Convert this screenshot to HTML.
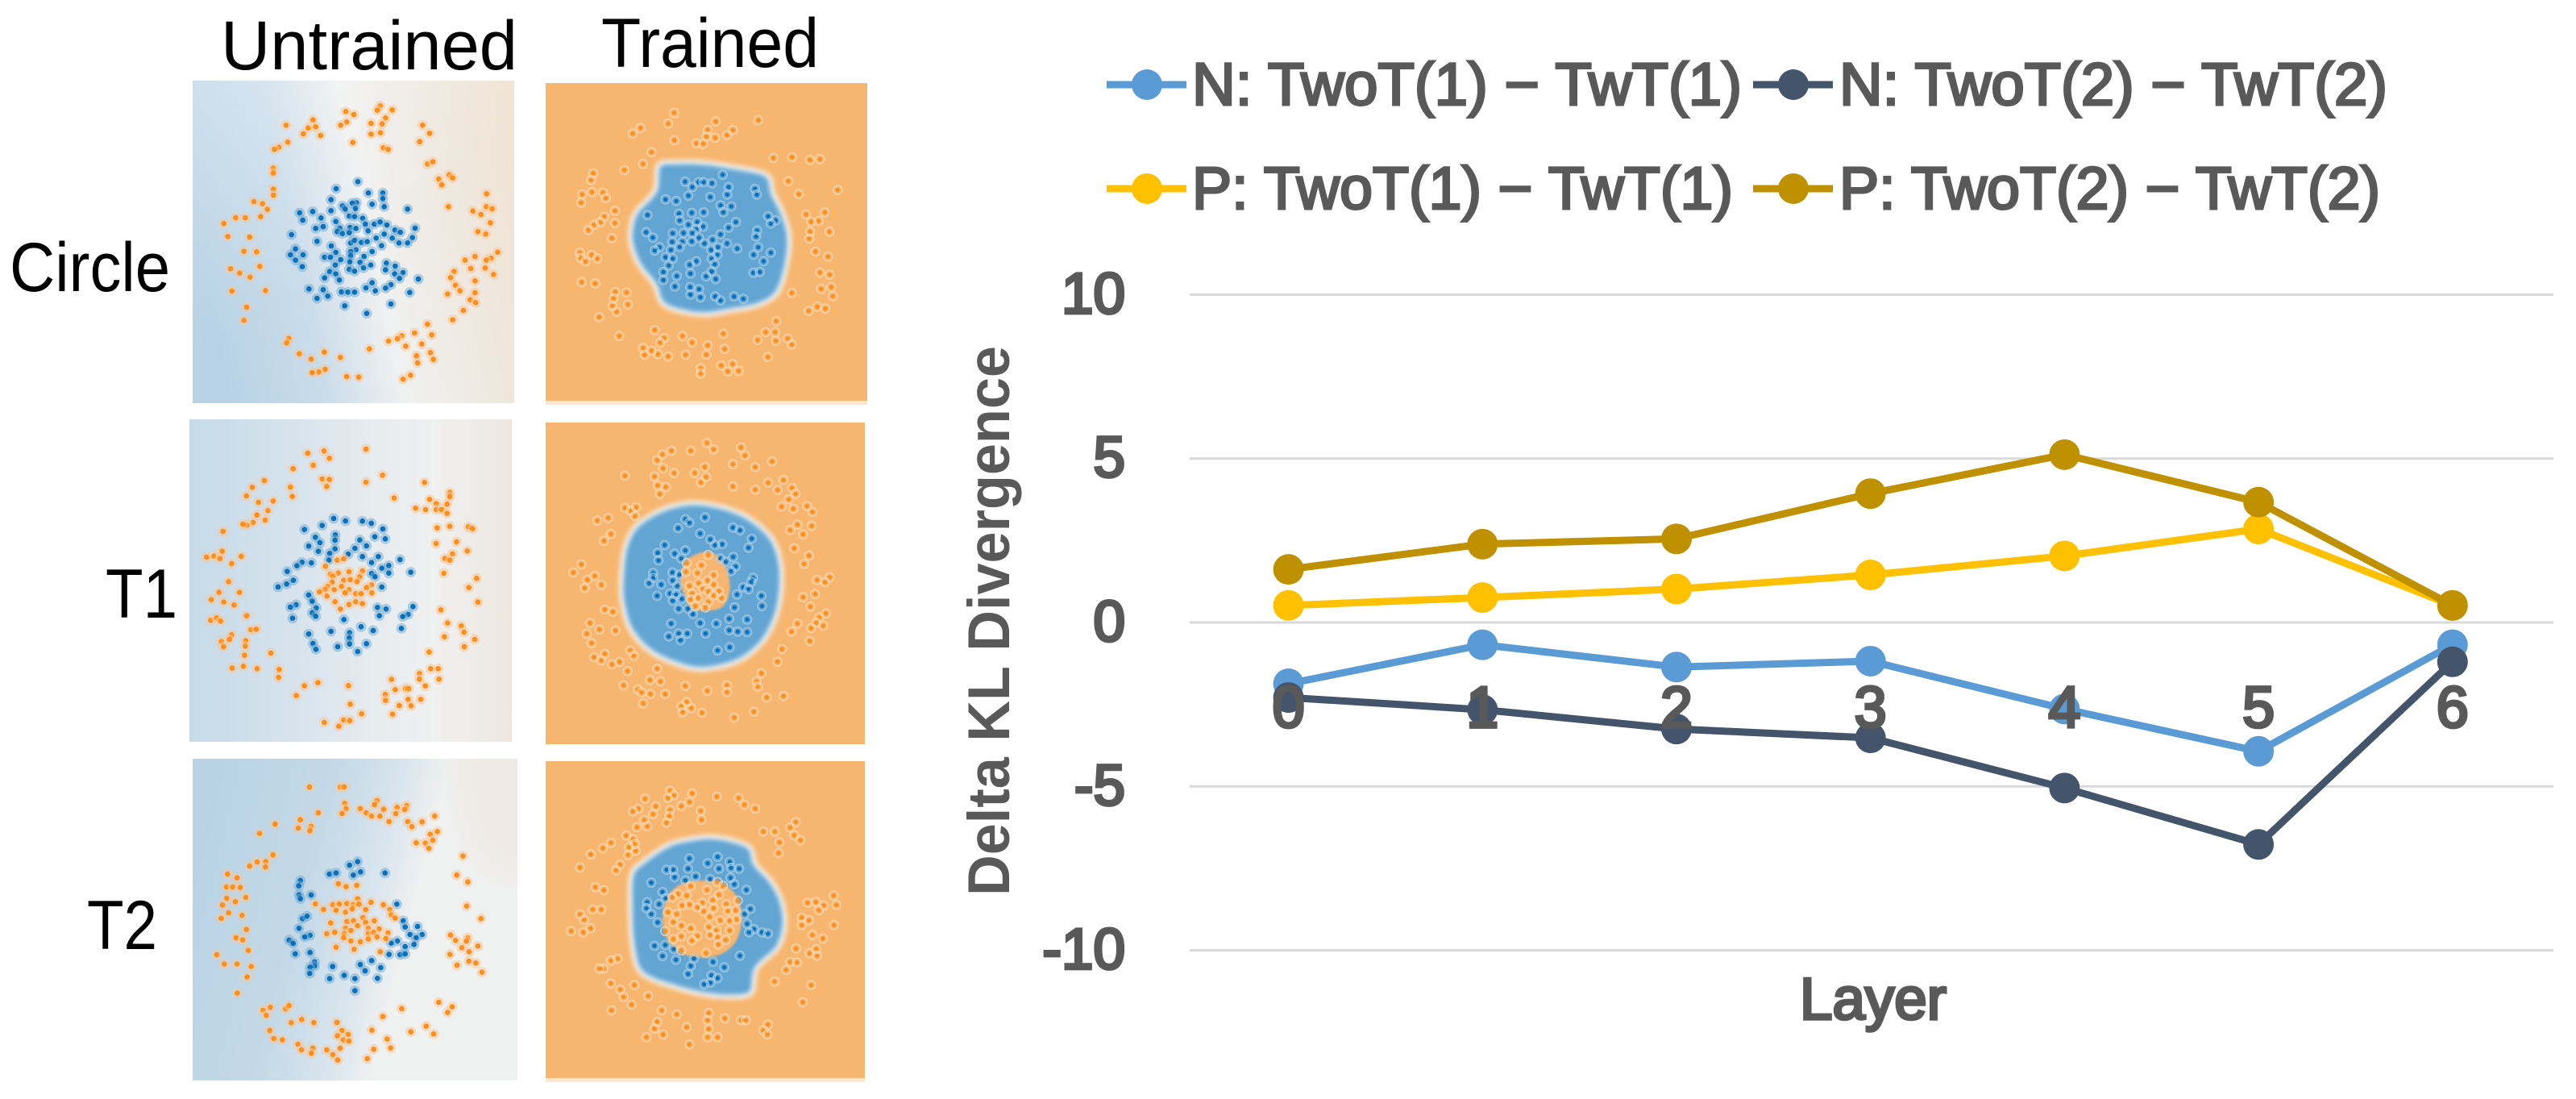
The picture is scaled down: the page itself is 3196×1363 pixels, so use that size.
<!DOCTYPE html>
<html lang="en">
<head>
<meta charset="utf-8">
<title>Delta KL Divergence by Layer</title>
<style>
html,body{margin:0;padding:0;background:#fff;width:3196px;height:1363px;overflow:hidden}
svg{display:block}
text{font-family:"Liberation Sans",sans-serif}
</style>
</head>
<body>
<svg id="figure" xmlns="http://www.w3.org/2000/svg" width="3196" height="1363" viewBox="0 0 3196 1363">
<defs>
<linearGradient id="bgA" gradientUnits="userSpaceOnUse" x1="249" y1="342" x2="671" y2="254">
<stop offset="0" stop-color="#b7d2e5"/><stop offset=".28" stop-color="#cadcea"/><stop offset=".5" stop-color="#eff1f1"/><stop offset=".72" stop-color="#efe9e1"/><stop offset="1" stop-color="#efe2d2"/>
</linearGradient>
<linearGradient id="bgAtop" gradientUnits="userSpaceOnUse" x1="239" y1="100" x2="400" y2="340">
<stop offset="0" stop-color="#fff" stop-opacity=".25"/><stop offset="1" stop-color="#fff" stop-opacity="0"/>
</linearGradient>
<linearGradient id="bgB" gradientUnits="userSpaceOnUse" x1="235" y1="720" x2="635" y2="720">
<stop offset="0" stop-color="#c6dae8"/><stop offset=".3" stop-color="#d5e2ec"/><stop offset=".55" stop-color="#e5ebef"/><stop offset=".75" stop-color="#eff0f0"/><stop offset="1" stop-color="#eee7e0"/>
</linearGradient>
<linearGradient id="bgC" gradientUnits="userSpaceOnUse" x1="245" y1="1073" x2="633" y2="1170">
<stop offset="0" stop-color="#b9d3e5"/><stop offset=".35" stop-color="#c4d9e7"/><stop offset=".55" stop-color="#d9e5ee"/><stop offset=".68" stop-color="#eff0f0"/><stop offset="1" stop-color="#eff0f0"/>
</linearGradient>
<filter id="blurEdge" x="-20%" y="-20%" width="140%" height="140%"><feGaussianBlur stdDeviation="3"/></filter>
<filter id="blurCore" x="-20%" y="-20%" width="140%" height="140%"><feGaussianBlur stdDeviation="2"/></filter>
<filter id="blurSoft" x="-20%" y="-20%" width="140%" height="140%"><feGaussianBlur stdDeviation="1.2"/></filter>
<filter id="blurCorner" x="-60%" y="-60%" width="220%" height="220%"><feGaussianBlur stdDeviation="10"/></filter>
</defs>

<rect width="3196" height="1363" fill="#fff"/>

<text x="274" y="86" font-size="86" fill="#000" textLength="368" lengthAdjust="spacingAndGlyphs">Untrained</text>
<text x="746" y="83" font-size="86" fill="#000" textLength="270" lengthAdjust="spacingAndGlyphs">Trained</text>
<text x="12" y="361" font-size="86" fill="#000" textLength="199" lengthAdjust="spacingAndGlyphs">Circle</text>
<text x="131" y="766" font-size="86" fill="#000" textLength="89" lengthAdjust="spacingAndGlyphs">T1</text>
<text x="108" y="1177" font-size="86" fill="#000" textLength="87" lengthAdjust="spacingAndGlyphs">T2</text>

<g id="panels"></g>

<g id="chart">
<g id="grid"></g>
<g id="y-axis"></g>
<g id="series"></g>
<g id="x-axis"></g>
<text transform="translate(1252,1111) rotate(-90)" x="0" y="0" font-size="73" font-weight="bold" fill="#595959" textLength="682" lengthAdjust="spacingAndGlyphs">Delta KL Divergence</text>
<text x="2233" y="1264" font-size="73" fill="#595959" stroke="#595959" stroke-width="3.6" textLength="182" lengthAdjust="spacingAndGlyphs">Layer</text>
<g id="legend"></g>
</g>
</svg>

<script>
/* ---------- line chart data ---------- */
var layers = ["0","1","2","3","4","5","6"];
var yTicks = [10,5,0,-5,-10];
var seriesN1 = [-1.87,-0.68,-1.36,-1.18,-2.64,-3.93,-0.68];
var seriesN2 = [-2.29,-2.66,-3.25,-3.52,-5.05,-6.77,-1.2];
var seriesP1 = [0.52,0.76,1.02,1.45,2.03,2.85,0.52];
var seriesP2 = [1.62,2.39,2.55,3.93,5.12,3.67,0.52];
var seriesNames = ["N: TwoT(1) \u2212 TwT(1)","N: TwoT(2) \u2212 TwT(2)","P: TwoT(1) \u2212 TwT(1)","P: TwoT(2) \u2212 TwT(2)"];

/* ---------- scatter data: flat x1,x2 pairs, feature units 0-1215 ---------- */
var circleUntrainedOrange = [360,172,460,152,442,182,470,178,424,204,488,210,366,235,333,254,316,262,312,332,312,350,313,410,313,432,240,456,272,464,290,485,265,512,208,516,172,516,128,538,143,586,224,588,203,641,250,643,153,706,187,722,262,697,226,737,158,789,283,787,213,849,203,898,582,121,612,132,585,160,563,172,608,236,676,165,676,205,710,100,699,116,755,115,730,145,717,167,711,200,722,256,740,262,868,172,894,202,857,233,886,316,906,308,967,356,980,368,928,372,939,394,964,475,1106,427,1055,491,1085,504,1105,475,1127,483,1120,535,1074,568,1103,577,1147,644,1063,660,1123,666,1105,674,1026,674,1047,705,1101,703,1132,727,985,716,972,739,1063,751,990,767,1007,788,961,800,1063,795,1045,821,1065,832,1020,861,980,896,886,912,838,945,902,952,790,955,774,966,741,975,805,994,865,986,670,1004,897,1018,845,1030,908,1043,849,1056,823,1102,795,1117,370,965,362,982,409,1022,453,1042,502,1016,562,1036,505,1080,481,1090,457,1092,585,1107,630,1109];
var circleUntrainedBlue = [627,382,546,408,666,424,720,424,720,445,527,449,622,460,606,462,680,466,725,475,812,484,570,472,580,484,527,490,618,482,459,493,410,498,422,525,490,517,595,510,615,512,645,518,545,530,655,540,688,540,710,532,735,543,470,556,498,549,560,555,598,552,620,556,550,568,570,575,595,572,665,565,765,562,785,570,840,555,380,579,725,577,695,592,755,592,830,590,475,604,600,610,615,600,640,608,662,605,780,610,812,610,715,620,528,621,395,632,620,635,600,642,680,642,545,645,376,654,423,654,503,663,525,663,563,672,600,658,650,660,395,674,635,682,597,680,675,692,543,692,420,698,733,685,766,696,595,708,648,703,615,715,730,710,522,716,545,725,764,725,795,720,503,740,782,742,852,744,558,748,680,758,750,765,730,778,657,777,445,781,498,784,566,792,590,793,615,793,692,788,820,794,475,816,515,808,578,844,750,837,660,872];
var circleTrainedOrange = [487,120,465,160,362,176,333,197,642,152,612,183,706,184,684,203,640,213,607,208,488,222,570,233,595,235,800,147,403,266,371,310,302,333,857,288,926,285,992,295,1030,292,912,374,1096,407,951,422,186,345,178,370,181,415,145,423,222,417,233,437,141,454,267,484,227,506,213,527,189,537,267,530,168,556,255,586,978,498,1048,490,997,525,1025,522,993,562,1065,562,990,588,1013,636,1060,655,137,640,140,660,157,673,180,648,201,662,143,750,193,755,1030,714,1066,722,1034,775,1072,768,1078,802,925,790,268,786,310,788,262,810,315,833,258,838,273,860,208,880,1020,841,1050,848,988,857,867,895,283,950,415,928,450,958,435,975,828,936,863,936,670,942,798,965,866,968,910,960,925,982,518,950,554,974,612,985,675,998,372,995,403,1005,377,1020,427,1018,465,1026,530,1020,607,1020,836,1028,662,1060,705,1055,687,1082,727,1080,586,1070,586,1090];
var circleTrainedBlue = [668,350,528,376,578,378,597,378,628,382,555,396,690,396,788,403,795,424,685,424,540,428,622,433,455,442,495,448,660,464,700,468,670,490,505,495,597,490,553,492,388,500,837,505,508,520,865,520,847,532,717,526,540,536,573,526,595,543,690,547,570,552,796,558,383,564,482,568,522,567,555,567,660,572,792,580,408,584,580,585,553,598,480,600,518,600,630,592,600,606,684,606,508,619,650,620,433,620,722,625,800,620,415,632,475,630,625,630,847,640,783,648,648,648,455,657,482,662,627,662,570,672,820,672,545,685,467,688,638,683,447,712,548,718,627,710,782,715,806,712,497,727,606,728,447,742,642,738,490,766,547,768,580,776,548,796,585,806,640,803,660,818,710,803,745,812];
var t1UntrainedOrange = [446,132,507,124,527,151,663,117,467,177,392,190,725,214,663,240,500,228,527,230,517,256,285,234,240,259,382,258,389,293,218,291,263,315,318,310,768,299,881,241,298,346,257,362,288,381,243,390,220,400,205,396,131,423,975,278,975,294,900,304,925,320,965,322,848,337,885,342,925,342,945,342,965,356,928,410,975,404,1044,406,1060,413,128,497,70,519,97,515,120,524,199,516,163,543,924,468,1000,462,1040,496,985,507,957,524,975,530,953,579,152,610,1075,598,1046,632,116,650,192,650,87,677,134,686,172,697,1080,686,942,715,219,737,85,754,107,745,122,757,967,764,1018,775,1028,798,235,789,255,787,163,808,155,825,125,833,133,852,216,830,214,850,955,815,1068,825,1029,852,211,884,309,876,898,872,165,932,207,925,258,934,340,937,338,966,904,934,932,934,862,952,862,973,935,973,758,974,484,986,434,998,598,997,884,998,772,1012,810,1008,822,1008,404,1034,735,1030,736,1052,820,1048,867,1048,605,1066,787,1071,831,1072,647,1102,762,1103,508,1134,580,1125,603,1127,562,1148,556,530,580,525,512,553,530,582,560,578,600,573,650,570,540,590,580,605,605,603,640,592,537,612,630,610,684,622,665,632,520,628,510,640,490,648,545,640,572,628,600,640,585,652,625,655,645,655,685,652,518,664,548,685,600,695,625,685,650,692,568,712];
var t1UntrainedBlue = [543,375,587,384,650,385,683,393,500,401,434,416,726,414,475,445,549,436,548,456,696,443,735,451,640,455,492,465,450,478,665,477,548,488,486,497,622,486,528,505,597,508,650,517,709,517,525,530,790,528,684,539,425,538,460,540,406,551,748,550,722,560,370,572,830,575,748,578,684,580,697,592,393,605,368,619,336,630,722,630,450,660,463,683,403,696,382,705,478,708,838,703,706,706,738,712,463,726,820,732,713,737,476,739,800,740,390,746,581,751,795,784,645,778,690,792,533,795,450,805,602,800,601,820,466,840,602,842,665,841,558,852,477,862,632,870];
var t1TrainedOrange = [615,88,640,112,483,117,555,117,742,105,757,135,450,131,430,152,712,167,858,157,795,178,607,177,452,182,493,200,570,200,310,210,420,213,612,215,593,235,432,246,462,252,712,250,795,262,843,236,900,226,932,256,878,263,945,277,440,278,920,298,893,325,937,333,988,323,1008,345,310,330,332,340,352,327,347,360,248,367,207,377,952,392,1005,397,925,412,973,428,258,427,232,452,940,480,995,507,977,538,148,540,118,570,198,583,170,597,222,616,160,628,1072,588,1025,598,1055,606,1018,650,973,662,1000,697,1058,722,1033,738,235,708,265,716,180,758,215,782,275,786,168,798,1022,757,1048,768,1003,777,952,760,930,790,998,825,186,833,895,855,330,860,343,880,235,873,195,885,222,897,290,903,262,912,878,902,320,937,430,928,818,945,403,970,442,975,800,975,805,995,305,990,535,992,690,990,690,1015,358,1005,372,1016,405,1022,460,1022,617,1010,838,1035,900,1030,378,1057,540,1052,520,1068,557,1075,525,1090,597,1092,790,1088,717,1110,620,505,540,535,595,543,537,568,580,572,640,580,618,600,585,610,640,615,550,620,600,630,660,640,620,640,560,648,640,655,582,665,670,665,620,680,555,670,572,695,610,700];
var t1TrainedBlue = [608,365,535,372,550,385,508,405,712,403,738,413,590,425,782,444,628,447,645,468,672,465,458,468,770,478,535,488,432,497,495,500,713,512,665,518,435,525,520,518,685,530,722,548,487,570,415,572,513,578,705,565,787,590,415,590,488,600,400,610,445,615,750,625,780,605,770,632,505,620,478,648,500,652,430,657,727,652,818,657,522,668,488,675,820,695,718,700,510,705,545,705,563,725,698,742,765,745,482,760,590,758,650,760,698,785,730,790,765,792,510,797,542,797,610,797,473,808,517,822,700,848,655,860];
var t2UntrainedOrange = [441,114,555,114,570,114,572,175,577,195,562,213,474,210,630,195,652,210,672,222,692,165,683,180,717,197,703,223,767,190,762,213,802,183,795,198,737,243,807,243,822,262,860,244,907,222,917,280,890,290,900,312,838,322,872,323,885,342,407,236,399,267,447,260,442,277,313,252,255,287,1012,371,305,367,246,393,278,392,218,408,277,412,136,438,171,452,132,486,155,486,183,488,989,442,1030,467,204,525,133,528,165,541,117,553,1026,557,140,582,190,592,112,603,1079,604,206,644,168,675,192,683,966,665,985,685,1030,675,1025,688,1008,712,1068,706,1035,727,213,722,964,737,96,738,1034,762,1060,769,124,773,171,773,224,782,990,777,1083,803,209,821,172,881,922,915,972,932,295,934,268,945,280,964,352,940,365,928,784,939,955,953,714,968,412,979,373,991,457,991,543,990,875,1004,903,1033,293,1020,673,1019,818,1025,562,1020,585,1035,545,1040,308,1050,340,1055,730,1052,567,1055,588,1060,398,1072,453,1086,411,1092,505,1092,555,1086,680,1090,743,1085,448,1105,528,1110,546,1130,656,1125,548,474,577,485,617,480,620,530,463,549,528,552,552,550,580,548,604,552,625,550,670,543,716,552,493,570,540,573,575,580,600,568,650,570,740,570,745,590,760,602,520,620,580,615,605,612,640,600,650,618,682,612,575,640,620,630,660,640,700,642,505,660,535,655,570,660,595,648,660,660,680,655,733,657,568,675,660,680,692,672,725,678,595,687,630,690,540,710,607,718,704,727];
var t2UntrainedBlue = [620,392,590,405,515,438,540,434,631,430,604,442,722,434,407,462,401,482,402,515,447,516,407,530,766,550,415,604,432,595,790,612,797,635,843,633,402,640,443,666,423,672,815,663,860,663,838,675,365,684,380,696,768,687,745,695,830,700,797,708,443,730,388,735,737,737,778,738,797,735,672,760,460,765,460,780,630,775,443,785,527,782,706,786,648,798,442,808,570,815,516,827,610,827,694,826,610,872];
var t2TrainedOrange = [478,128,492,145,560,138,470,155,385,158,652,150,733,155,550,170,425,186,520,185,755,180,795,195,360,195,340,205,478,200,592,203,415,215,475,222,595,236,382,237,465,247,393,260,355,264,946,245,925,265,825,280,868,280,940,294,963,312,315,295,340,308,885,320,258,322,228,342,347,326,325,338,350,352,322,367,882,360,183,365,292,403,143,414,277,424,200,487,232,498,990,545,1020,542,1087,518,1097,553,1050,555,1032,572,190,570,222,570,143,588,158,608,968,600,995,610,968,628,1088,628,182,640,110,650,155,655,1008,665,1047,678,947,715,1022,717,997,733,1025,742,283,753,258,760,925,765,950,767,230,790,215,790,910,795,257,845,345,851,867,838,1003,851,293,868,397,892,305,895,335,924,972,915,260,945,447,945,503,960,622,955,682,975,618,982,742,982,760,982,430,988,842,998,540,1008,420,1013,622,1015,825,1020,452,1035,390,1045,618,1045,655,1045,840,1035,550,1072,555,483,615,497,655,468,675,482,508,512,540,518,660,515,487,525,730,537,523,555,550,552,598,545,637,535,687,550,470,580,503,587,580,562,640,565,603,577,693,575,722,573,625,597,725,607,665,610,700,612,490,617,520,630,555,640,622,635,460,650,650,648,700,648,490,680,520,670,580,668,628,665,655,672,685,683,560,685,658,700,520,722,612,732];
var t2TrainedBlue = [550,380,655,374,618,398,700,393,545,418,660,418,705,415,735,418,465,422,490,422,495,450,573,447,627,457,703,452,535,462,408,470,717,476,762,497,450,505,462,528,393,543,437,550,390,565,777,568,755,587,408,587,432,618,765,623,790,643,772,655,820,655,842,660,420,705,460,702,492,717,738,742,450,743,567,752,500,757,638,765,555,780,680,785,545,810,632,815,655,825,628,842,605,848];

/* decision-region outlines, same feature units */
var circleBlobOutline = [430,315,500,303,600,305,700,320,830,350,855,420,890,490,915,580,905,690,870,790,800,835,700,855,600,870,500,855,440,825,415,760,360,690,330,620,325,560,345,490,415,410];
var t1BlobOutline = [590,312,700,335,790,380,860,450,890,540,890,650,870,740,820,830,730,900,600,930,500,910,400,860,330,780,300,680,297,590,310,480,350,400,430,345,510,318];
var t1CoreOutline = [540,525,600,495,650,505,690,560,700,640,670,700,600,712,555,700,530,650,515,600];
var t2BlobOutline = [620,300,700,310,775,340,795,400,850,460,890,530,905,620,880,710,800,790,780,880,700,895,600,885,500,860,400,825,355,780,335,680,330,560,335,440,380,390,470,330,540,310];
var t2CoreOutline = [598,462,670,472,725,520,745,603,725,685,670,735,598,748,525,735,470,685,450,603,470,520,525,472];

var NS = "http://www.w3.org/2000/svg";
function make(tag, attrs, parent){
  var e = document.createElementNS(NS, tag);
  for (var k in attrs) e.setAttribute(k, attrs[k]);
  parent.appendChild(e);
  return e;
}

/* ---------- chart axes ---------- */
function xScale(i){ return 1598.6 + i * 240.7; }
function yScale(v){ return 772 - v * 40.66; }
var gridLeft = 1476, gridRight = 3168;

var gridG = document.getElementById("grid");
var yAxisG = document.getElementById("y-axis");
yTicks.forEach(function(t){
  var line = make("line", {x1:gridLeft, x2:gridRight, y1:yScale(t), y2:yScale(t), stroke:"#d9d9d9", "stroke-width":3}, gridG);
  
  
  var label = make("text", {x:1396, y:yScale(t)+23, "font-size":71, stroke:"#595959", "stroke-width":3.8, fill:"#595959", "text-anchor":"end"}, yAxisG);
  label.textContent = String(t);
  
  
});

var seriesColors = ["#5b9bd5","#44546a","#ffc000","#bf9000"];
var allSeries = [seriesN1, seriesN2, seriesP1, seriesP2];
var seriesG = document.getElementById("series");
allSeries.forEach(function(vals, s){
  var pts = vals.map(function(v,i){ return xScale(i).toFixed(1)+","+yScale(v).toFixed(1); }).join(" ");
  var poly = make("polyline", {points:pts, fill:"none", stroke:seriesColors[s], "stroke-width":9, "stroke-linejoin":"round"}, seriesG);
  
  
  vals.forEach(function(v,i){
    var m = make("circle", {cx:xScale(i), cy:yScale(v), r:19, fill:seriesColors[s]}, seriesG);
    
    
  });
});

var xAxisG = document.getElementById("x-axis");
layers.forEach(function(l,i){
  var t = make("text", {x:xScale(i), y:902, "font-size":72, stroke:"#595959", "stroke-width":3.8, fill:"#595959", "text-anchor":"middle"}, xAxisG);
  t.textContent = l;
  
  
});

/* ---------- legend ---------- */
var legendG = document.getElementById("legend");
function legendEntry(idx, lineX, textX, textW, base){
  var cy = base - 25;
  var ln = make("line", {x1:lineX, x2:lineX+99, y1:cy, y2:cy, stroke:seriesColors[idx], "stroke-width":9}, legendG);
  
  
  var dot = make("circle", {cx:lineX+50, cy:cy, r:19, fill:seriesColors[idx]}, legendG);
  
  
  var tx = make("text", {x:textX, y:base, "font-size":74, stroke:"#595959", "stroke-width":3, fill:"#595959", textLength:textW, lengthAdjust:"spacingAndGlyphs"}, legendG);
  tx.textContent = seriesNames[idx];
  
  
}
legendEntry(0, 1373, 1479, 682, 130);
legendEntry(1, 2175, 2282, 680, 130);
legendEntry(2, 1373, 1479, 671, 259);
legendEntry(3, 2175, 2282, 671, 259);

/* ---------- scatter panels ---------- */
var featureMax = 1215, panelSpan = 405;
function blobPath(flat, sx, sy){
  var p = [];
  for (var i=0;i<flat.length;i+=2) p.push([sx(flat[i]), sy(flat[i+1])]);
  var n = p.length, d = "M"+p[0][0].toFixed(1)+" "+p[0][1].toFixed(1);
  for (var j=0;j<n;j++){
    var a=p[(j-1+n)%n], b=p[j], c=p[(j+1)%n], e=p[(j+2)%n];
    d += "C"+(b[0]+(c[0]-a[0])/6).toFixed(1)+" "+(b[1]+(c[1]-a[1])/6).toFixed(1)+" "+(c[0]-(e[0]-b[0])/6).toFixed(1)+" "+(c[1]-(e[1]-b[1])/6).toFixed(1)+" "+c[0].toFixed(1)+" "+c[1].toFixed(1);
  }
  return d+"Z";
}
function drawDots(group, flat, sx, sy, color, halo, trained){
  for (var i=0;i<flat.length;i+=2){
    var cx = sx(flat[i]), cy = sy(flat[i+1]);
    if (trained){
      var ring = make("circle", {cx:cx, cy:cy, r:5.5, fill:"none", stroke:halo, "stroke-width":1.8, opacity:.7}, group);
      
      
      var dotT = make("circle", {cx:cx, cy:cy, r:2.6, fill:color}, group);
      
      
    } else {
      var h = make("circle", {cx:cx, cy:cy, r:6.5, fill:halo, opacity:.5}, group);
      
      
      var dotU = make("circle", {cx:cx, cy:cy, r:3.3, fill:color}, group);
      
      
    }
  }
}
var panelsG = document.getElementById("panels");
function panel(name, cropX, cropY, box, fill, orange, blue, blob, core, overlay){
  var g = make("g", {}, panelsG);
  
  
  var sx = function(u){ return cropX + u / featureMax * panelSpan; };
  var sy = function(u){ return cropY + u / featureMax * panelSpan; };
  var clipId = "clip-" + name;
  var cp = make("clipPath", {id:clipId}, g);
  make("rect", {x:box[0], y:box[1], width:box[2], height:box[3]}, cp);
  var inner = make("g", {"clip-path":"url(#"+clipId+")"}, g);
  var bg = make("rect", {x:box[0], y:box[1], width:box[2], height:box[3], fill:fill}, inner);
  
  
  if (overlay) overlay(inner, box);
  if (blob){
    var d = blobPath(blob, sx, sy);
    var region = make("path", {d:d, fill:"#62a5d3", filter:"url(#blurCore)"}, inner);
    
    
    var glow = make("path", {d:d, fill:"none", stroke:"#ffffff", "stroke-width":6, opacity:.8, filter:"url(#blurEdge)"}, inner);
    
    
  }
  if (core){
    var coreEl = make("path", {d:blobPath(core, sx, sy), fill:"#f6b670", filter:"url(#blurSoft)"}, inner);
    
    
  }
  var trained = !!blob;
  drawDots(inner, blue, sx, sy, "#0a70ba", trained ? "#a9cfe8" : "#6ea9d4", trained);
  drawDots(inner, orange, sx, sy, "#fa8f1e", trained ? "#fbd8b0" : "#fbc592", trained);
}
function overlayA(g, b){
  var r = make("rect", {x:b[0], y:b[1], width:b[2], height:b[3], fill:"url(#bgAtop)"}, g);
  
  
}
function overlayC(g, b){
  var r = make("ellipse", {cx:635, cy:960, rx:70, ry:130, fill:"#efe9e4", opacity:.8, filter:"url(#blurCorner)"}, g);
  
  
}
function trainedStrip(x, y, w){
  var s = make("rect", {x:x, y:y, width:w, height:5, fill:"#fbe6cf"}, panelsG);
  
  
}
var trainedBg = "#f6b670";
panel("panel-circle-untrained", 235, 98, [239,100,399,400], "url(#bgA)", circleUntrainedOrange, circleUntrainedBlue, null, null, overlayA);
panel("panel-circle-trained", 674, 100, [677,103,399,394], trainedBg, circleTrainedOrange, circleTrainedBlue, circleBlobOutline, null, null);
panel("panel-t1-untrained", 233, 518, [235,520,400,400], "url(#bgB)", t1UntrainedOrange, t1UntrainedBlue, null, null, null);
panel("panel-t1-trained", 672, 520, [677,524,396,399], trainedBg, t1TrainedOrange, t1TrainedBlue, t1BlobOutline, t1CoreOutline, null);
panel("panel-t2-untrained", 237, 938, [239,941,403,399], "url(#bgC)", t2UntrainedOrange, t2UntrainedBlue, null, null, overlayC);
panel("panel-t2-trained", 672, 938, [677,944,396,393], trainedBg, t2TrainedOrange, t2TrainedBlue, t2BlobOutline, t2CoreOutline, null);
trainedStrip(677, 497, 399);
trainedStrip(677, 1337, 396);
</script>
</body>
</html>
